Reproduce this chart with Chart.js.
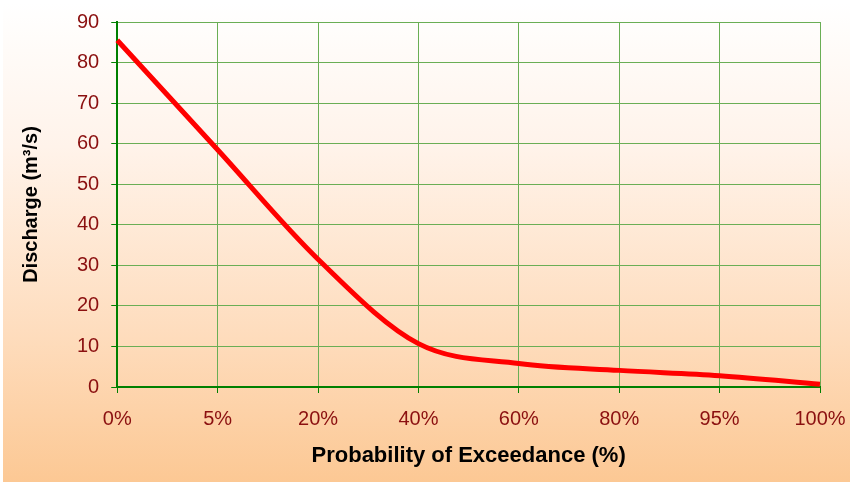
<!DOCTYPE html>
<html>
<head>
<meta charset="utf-8">
<script src="https://cdn.jsdelivr.net/npm/chart.js@4/dist/chart.umd.min.js"></script>
<style>
  html, body { margin: 0; padding: 0; background: #fff; }
  #wrap {
    position: absolute; left: 3px; top: 3px; width: 847px; height: 479px;
    background: linear-gradient(to bottom, #ffffff 0%, #fff3ea 30%, #fedcbc 70%, #fcc894 100%);
  }
  canvas { display: block; }
</style>
</head>
<body>
<div id="wrap"><canvas id="fdc" width="847" height="479"></canvas></div>
<script>
// ===== Data =====
const exceedance = ['0%', '5%', '20%', '40%', '60%', '80%', '95%', '100%'];
const discharge = [85.5, 58.5, 31.5, 10.7, 5.8, 4.1, 2.8, 0.7];

const tickColor = '#8b1010';
const gridColor = '#6aae55';
const axisColor = '#008000';

// ===== Chart =====
new Chart(document.getElementById('fdc'), {
  type: 'line',
  data: {
    labels: exceedance,
    datasets: [{
      data: discharge,
      borderColor: '#ff0000',
      borderWidth: 5,
      pointRadius: 0,
      cubicInterpolationMode: 'monotone',
      fill: false
    }]
  },
  options: {
    responsive: false,
    animation: false,
    layout: { padding: { left: 12, right: 30, top: 19, bottom: 11 } },
    plugins: { legend: { display: false }, tooltip: { enabled: false } },
    scales: {
      x: {
        offset: false,
        // edge labels may hang past the plot edges, layout padding handles room
        afterFit: s => { s.paddingLeft = 0; s.paddingRight = 0; },
        grid: {
          color: gridColor, lineWidth: 1, borderDash: [1, 1],
          drawTicks: true, tickLength: 6, tickColor: axisColor
        },
        border: { display: true, color: axisColor, width: 2 },
        ticks: { color: tickColor, font: { family: 'Liberation Sans', size: 20 }, padding: 14, maxRotation: 0 },
        title: {
          display: true, text: 'Probability of Exceedance (%)', color: '#000',
          font: { family: 'Liberation Sans', size: 22, weight: 'bold', lineHeight: 1 }, padding: { top: 0 }
        }
      },
      y: {
        min: 0, max: 90,
        afterFit: s => { s.paddingTop = 0; s.paddingBottom = 0; },
        grid: {
          color: gridColor, lineWidth: 1, borderDash: [1, 1],
          drawTicks: true, tickLength: 6, tickColor: axisColor
        },
        border: { display: true, color: axisColor, width: 2 },
        ticks: { stepSize: 10, color: tickColor, font: { family: 'Liberation Sans', size: 20 }, padding: 12 },
        title: {
          display: true, text: 'Discharge (m³/s)', color: '#000',
          font: { family: 'Liberation Sans', size: 20, weight: 'bold' }, padding: { bottom: 22 }
        }
      }
    }
  }
});
</script>
</body>
</html>
